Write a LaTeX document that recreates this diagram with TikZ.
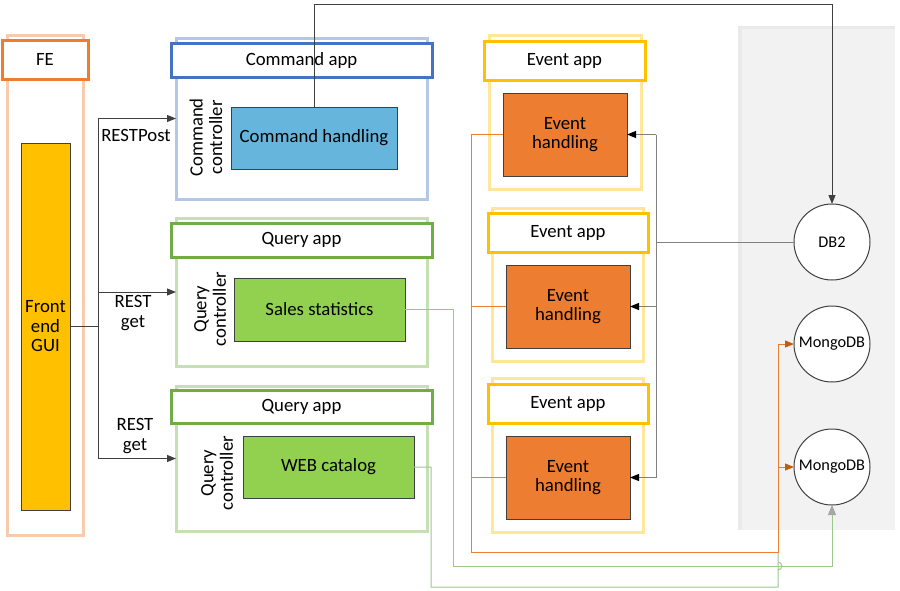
\documentclass[tikz,border=0pt]{standalone}
\usepackage{fontspec}
\setmainfont{Carlito}
\usetikzlibrary{arrows.meta}
\definecolor{feout}{HTML}{F8CBAD}
\definecolor{fehead}{HTML}{ED7D31}
\definecolor{guifill}{HTML}{FFC000}
\definecolor{cmdout}{HTML}{B4C7E7}
\definecolor{cmdhead}{HTML}{4472C4}
\definecolor{cmdfill}{HTML}{65B5DD}
\definecolor{qout}{HTML}{C5E0B4}
\definecolor{qhead}{HTML}{70AD47}
\definecolor{qfill}{HTML}{92D050}
\definecolor{evout}{HTML}{FFE699}
\definecolor{evhead}{HTML}{FFC000}
\definecolor{evfill}{HTML}{ED7D31}
\definecolor{panel}{HTML}{F2F2F2}
\definecolor{paneledge}{HTML}{EAEAEA}
\definecolor{darkline}{HTML}{404040}
\definecolor{grayline}{HTML}{808080}
\definecolor{orline}{HTML}{ED7D31}
\definecolor{ortip}{HTML}{C55A11}
\definecolor{grline}{HTML}{9DC88D}
\definecolor{graytip}{HTML}{A6A6A6}
\tikzset{
  txt/.style={font=\fontsize{18.75}{19.5}\selectfont, align=center, inner sep=0pt},
  smalltxt/.style={font=\fontsize{16.3}{17}\selectfont, align=center, inner sep=0pt},
  outerbox/.style={draw=#1, line width=3pt, inner sep=0pt, outer sep=0pt},
  headbox/.style={draw=#1, line width=3pt, fill=white, inner sep=0pt, outer sep=0pt, txt},
  fillbox/.style={draw=darkline, line width=1pt, fill=#1, inner sep=0pt, outer sep=0pt, txt},
  dbcircle/.style={circle, draw=darkline, line width=1pt, fill=white, minimum size=76pt, inner sep=0pt, outer sep=0pt, smalltxt},
  conn/.style={line width=1pt, draw=darkline},
  tip/.style={-{Triangle[length=9pt,width=7pt]}},
}
\begin{document}
\begin{tikzpicture}[x=1pt,y=-1pt]
\useasboundingbox (0,0) rectangle (900,590);
% background panel
\fill[panel] (738,26) rectangle (895,530);
\fill[paneledge] (738,26) rectangle (742,530);
\fill[paneledge] (738,26) rectangle (895,29);

% FE
\node[outerbox=feout, minimum width=76pt, minimum height=500pt] (feo) at (45,285) {};
\node[headbox=fehead, minimum width=86pt, minimum height=39pt] (feh) at (45,59.5) {FE};
\node[fillbox=guifill, minimum width=49pt, minimum height=367pt] (gui) at (45.5,326.5) {Front\\end\\GUI};

% Command app
\node[outerbox=cmdout, minimum width=251pt, minimum height=161pt] (cmdo) at (301.5,118.5) {};
\node[headbox=cmdhead, minimum width=261pt, minimum height=34pt] (cmdh) at (301.5,60) {Command app};
\node[fillbox=cmdfill, minimum width=166pt, minimum height=62pt] (cmd) at (314,138) {Command handling};
\node[txt, rotate=90] (cmdc) at (206,137.5) {Command\\controller};

% Query app 1
\node[outerbox=qout, minimum width=251pt, minimum height=148pt] (q1o) at (301.5,292) {};
\node[headbox=qhead, minimum width=261pt, minimum height=34pt] (q1h) at (301.5,240) {Query app};
\node[fillbox=qfill, minimum width=171pt, minimum height=63pt] (sales) at (319.5,309.5) {Sales statistics};
\node[txt, rotate=90] (q1c) at (210,309) {Query\\controller};

% Query app 2
\node[outerbox=qout, minimum width=251pt, minimum height=145pt] (q2o) at (301.5,458.5) {};
\node[headbox=qhead, minimum width=261pt, minimum height=33pt] (q2h) at (301.5,406.5) {Query app};
\node[fillbox=qfill, minimum width=171pt, minimum height=62pt] (web) at (328.5,467) {WEB catalog};
\node[txt, rotate=90] (q2c) at (217,473) {Query\\controller};

% Event apps
\node[outerbox=evout, minimum width=152pt, minimum height=154pt] (e1o) at (565,112) {};
\node[headbox=evhead, minimum width=161pt, minimum height=39pt] (e1h) at (564.5,60.5) {Event app};
\node[fillbox=evfill, minimum width=124pt, minimum height=83pt] (eh1) at (565,134.5) {Event\\handling};

\node[outerbox=evout, minimum width=151pt, minimum height=153pt] (e2o) at (567.5,284.5) {};
\node[headbox=evhead, minimum width=160pt, minimum height=39pt] (e2h) at (568,232.5) {Event app};
\node[fillbox=evfill, minimum width=124pt, minimum height=83pt] (eh2) at (568,306.5) {Event\\handling};

\node[outerbox=evout, minimum width=151pt, minimum height=154pt] (e3o) at (567.5,455) {};
\node[headbox=evhead, minimum width=160pt, minimum height=39pt] (e3h) at (568,403.5) {Event app};
\node[fillbox=evfill, minimum width=124pt, minimum height=83pt] (eh3) at (568,477.5) {Event\\handling};

% Databases
\node[dbcircle] (db2) at (832,242) {DB2};
\node[dbcircle] (m1) at (832,344) {MongoDB};
\node[dbcircle] (m2) at (832,467) {MongoDB};

% FE connectors
\coordinate (fj) at (98,327);
\draw[conn] (gui.east) -- (gui.east -| fj);
\draw[conn] (fj |- cmdo.west) -- (fj |- q2o.west);
\draw[conn, tip] (fj |- cmdo.west) -- (cmdo.west);
\draw[conn, tip] (fj |- q1o.west) -- (q1o.west);
\draw[conn, tip] (fj |- q2o.west) -- (q2o.west);
\node[txt] (lpost) at (136,135) {RESTPost};
\node[txt] (lget1) at (133,313) {REST\\get};
\node[txt] (lget2) at (135,436) {REST\\get};

% Command handling -> DB2
\coordinate (topy) at (0,4);
\draw[conn, tip] (cmd.north) -- (cmd.north |- topy) -- (topy -| db2) -- (db2.north);

% DB2 -> event handlers
\coordinate (gv) at (656,0);
\draw[line width=1pt, draw=grayline] (gv |- eh1.east) -- (gv |- eh3.east);
\draw[line width=1pt, draw=grayline] (gv |- db2.west) -- (db2.west);
\draw[line width=1pt, draw=grayline, arrows={-{Triangle[length=9pt,width=7pt,color=black]}}] (gv |- eh1.east) -- (eh1.east);
\draw[line width=1pt, draw=grayline, arrows={-{Triangle[length=9pt,width=7pt,color=black]}}] (gv |- eh2.east) -- (eh2.east);
\draw[line width=1pt, draw=grayline, arrows={-{Triangle[length=9pt,width=7pt,color=black]}}] (gv |- eh3.east) -- (eh3.east);

% green query connectors
\coordinate (gs) at (453,566);
\coordinate (gw) at (431,587);
\coordinate (ox) at (778,552);
\draw[line width=1pt, draw=grline, arrows={-{Triangle[length=10pt,width=8pt,color=graytip]}}]
  (sales.east) -- (sales.east -| gs) -- (gs) -- (gs -| m2) -- (m2.south);
\draw[line width=1pt, draw=grline]
  (web.east) -- (web.east -| gw) -- (gw) -- (gw -| ox) -- ([yshift=4pt]gs -| ox)
  .. controls ([xshift=5pt,yshift=4pt]gs -| ox) and ([xshift=5pt,yshift=-4pt]gs -| ox) .. ([yshift=-4pt]gs -| ox) -- (ox);

% orange event connectors
\coordinate (ov) at (471,0);
\draw[line width=1pt, draw=orline] (eh1.west) -- (ov |- eh1.west) -- (ov |- ox) -- (ox) -- (ox |- m1.west);
\draw[line width=1pt, draw=orline] (eh2.west) -- (ov |- eh2.west);
\draw[line width=1pt, draw=orline] (eh3.west) -- (ov |- eh3.west);
\draw[line width=1pt, draw=orline, arrows={-{Triangle[length=9pt,width=7pt,color=ortip]}}] (ox |- m1.west) -- (m1.west);
\draw[line width=1pt, draw=orline, arrows={-{Triangle[length=9pt,width=7pt,color=ortip]}}] (ox |- m2.west) -- (m2.west);
\end{tikzpicture}
\end{document}
